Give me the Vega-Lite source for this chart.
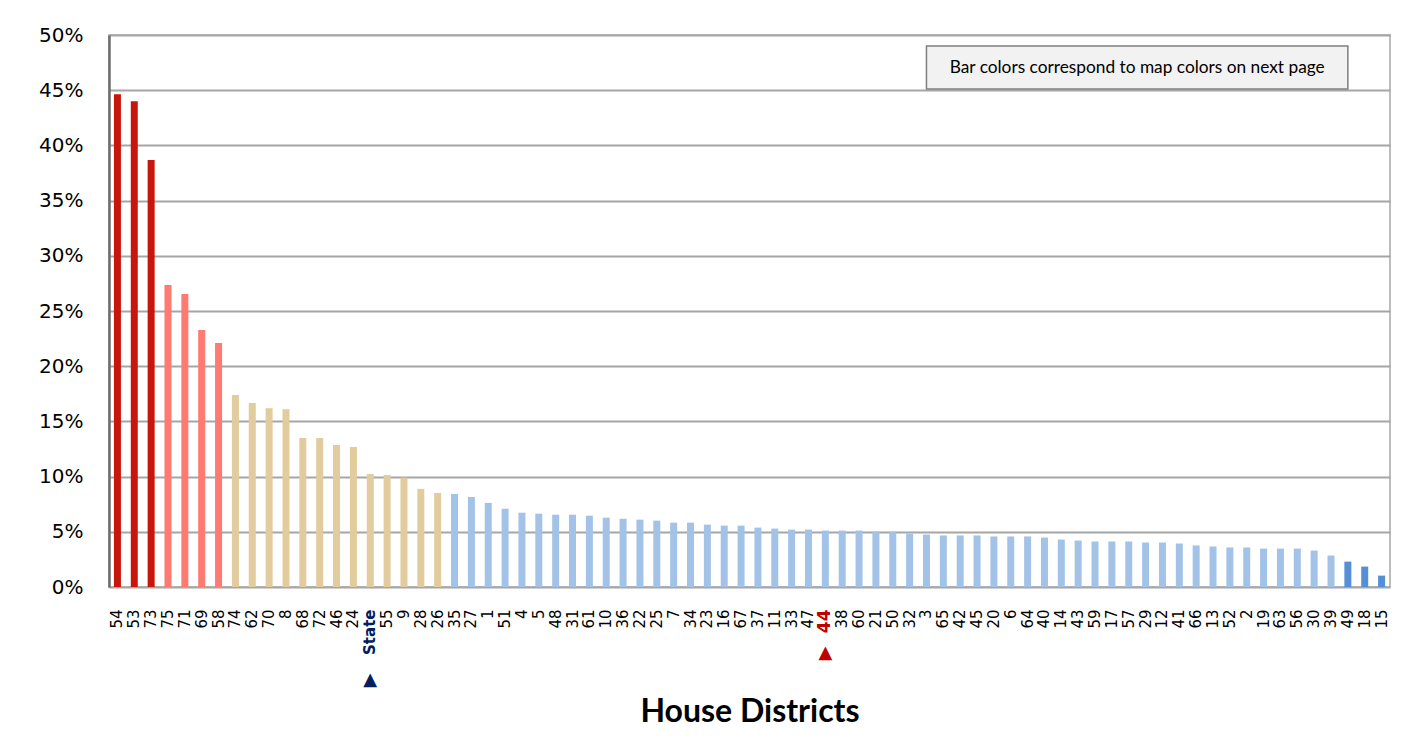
{
  "$schema": "https://vega.github.io/schema/vega-lite/v6.json",
  "width": 1281,
  "height": 552,
  "autosize": "none",
  "padding": {"left": 109, "top": 35, "right": 35, "bottom": 151},
  "background": "white",
  "config": {
    "view": {"stroke": "#A6A6A6", "strokeWidth": 1.5},
    "font": "DejaVu Sans"
  },
  "datasets": {
    "bars": [
      {"district": "54", "value": 0.4464, "group": "g1"},
      {"district": "53", "value": 0.4400, "group": "g1"},
      {"district": "73", "value": 0.3867, "group": "g1"},
      {"district": "75", "value": 0.2735, "group": "g2"},
      {"district": "71", "value": 0.2654, "group": "g2"},
      {"district": "69", "value": 0.2328, "group": "g2"},
      {"district": "58", "value": 0.2210, "group": "g2"},
      {"district": "74", "value": 0.1738, "group": "g3"},
      {"district": "62", "value": 0.1666, "group": "g3"},
      {"district": "70", "value": 0.1620, "group": "g3"},
      {"district": "8", "value": 0.1611, "group": "g3"},
      {"district": "68", "value": 0.1349, "group": "g3"},
      {"district": "72", "value": 0.1349, "group": "g3"},
      {"district": "46", "value": 0.1286, "group": "g3"},
      {"district": "24", "value": 0.1268, "group": "g3"},
      {"district": "State", "value": 0.1024, "group": "g3"},
      {"district": "55", "value": 0.1015, "group": "g3"},
      {"district": "9", "value": 0.0990, "group": "g3"},
      {"district": "28", "value": 0.0889, "group": "g3"},
      {"district": "26", "value": 0.0852, "group": "g3"},
      {"district": "35", "value": 0.0843, "group": "g4"},
      {"district": "27", "value": 0.0815, "group": "g4"},
      {"district": "1", "value": 0.0762, "group": "g4"},
      {"district": "51", "value": 0.0709, "group": "g4"},
      {"district": "4", "value": 0.0673, "group": "g4"},
      {"district": "5", "value": 0.0664, "group": "g4"},
      {"district": "48", "value": 0.0655, "group": "g4"},
      {"district": "31", "value": 0.0655, "group": "g4"},
      {"district": "61", "value": 0.0646, "group": "g4"},
      {"district": "10", "value": 0.0628, "group": "g4"},
      {"district": "36", "value": 0.0619, "group": "g4"},
      {"district": "22", "value": 0.0610, "group": "g4"},
      {"district": "25", "value": 0.0601, "group": "g4"},
      {"district": "7", "value": 0.0583, "group": "g4"},
      {"district": "34", "value": 0.0583, "group": "g4"},
      {"district": "23", "value": 0.0565, "group": "g4"},
      {"district": "16", "value": 0.0556, "group": "g4"},
      {"district": "67", "value": 0.0556, "group": "g4"},
      {"district": "37", "value": 0.0538, "group": "g4"},
      {"district": "11", "value": 0.0529, "group": "g4"},
      {"district": "33", "value": 0.0520, "group": "g4"},
      {"district": "47", "value": 0.0520, "group": "g4"},
      {"district": "44", "value": 0.0511, "group": "g4"},
      {"district": "38", "value": 0.0511, "group": "g4"},
      {"district": "60", "value": 0.0511, "group": "g4"},
      {"district": "21", "value": 0.0502, "group": "g4"},
      {"district": "50", "value": 0.0502, "group": "g4"},
      {"district": "32", "value": 0.0484, "group": "g4"},
      {"district": "3", "value": 0.0475, "group": "g4"},
      {"district": "65", "value": 0.0467, "group": "g4"},
      {"district": "42", "value": 0.0467, "group": "g4"},
      {"district": "45", "value": 0.0467, "group": "g4"},
      {"district": "20", "value": 0.0458, "group": "g4"},
      {"district": "6", "value": 0.0458, "group": "g4"},
      {"district": "64", "value": 0.0458, "group": "g4"},
      {"district": "40", "value": 0.0448, "group": "g4"},
      {"district": "14", "value": 0.0430, "group": "g4"},
      {"district": "43", "value": 0.0421, "group": "g4"},
      {"district": "59", "value": 0.0412, "group": "g4"},
      {"district": "17", "value": 0.0412, "group": "g4"},
      {"district": "57", "value": 0.0412, "group": "g4"},
      {"district": "29", "value": 0.0403, "group": "g4"},
      {"district": "12", "value": 0.0403, "group": "g4"},
      {"district": "41", "value": 0.0394, "group": "g4"},
      {"district": "66", "value": 0.0376, "group": "g4"},
      {"district": "13", "value": 0.0367, "group": "g4"},
      {"district": "52", "value": 0.0358, "group": "g4"},
      {"district": "2", "value": 0.0358, "group": "g4"},
      {"district": "19", "value": 0.0348, "group": "g4"},
      {"district": "63", "value": 0.0348, "group": "g4"},
      {"district": "56", "value": 0.0348, "group": "g4"},
      {"district": "30", "value": 0.0330, "group": "g4"},
      {"district": "39", "value": 0.0285, "group": "g4"},
      {"district": "49", "value": 0.0230, "group": "g5"},
      {"district": "18", "value": 0.0185, "group": "g5"},
      {"district": "15", "value": 0.0103, "group": "g5"}
    ],
    "note": [{"text": "Bar colors correspond to map colors on next page"}]
  },
  "layer": [
    {
      "data": {"name": "bars"},
      "mark": {"type": "bar", "size": 7},
      "encoding": {
        "x": {
          "field": "district",
          "type": "nominal",
          "sort": null,
          "scale": {"paddingInner": 0, "paddingOuter": 0},
          "axis": {
            "title": "House Districts",
            "titleFont": "Lato",
            "titleFontSize": 32,
            "titleFontWeight": "bold",
            "titleColor": "black",
            "titlePadding": 42,
            "labelAngle": -90,
            "labelFontSize": {"expr": "datum.value === '44' ? 17 : 15"},
            "labelPadding": 22,
            "labelColor": {"expr": "datum.value === 'State' ? '#002060' : (datum.value === '44' ? '#C00000' : 'black')"},
            "labelFontWeight": {"expr": "(datum.value === 'State' || datum.value === '44') ? 'bold' : 'normal'"},
            "labelOverlap": false,
            "ticks": false,
            "tickSize": 0,
            "domain": false,
            "grid": false
          }
        },
        "y": {
          "field": "value",
          "type": "quantitative",
          "scale": {"domain": [0, 0.5]},
          "axis": {
            "title": null,
            "format": ".0%",
            "values": [0, 0.05, 0.1, 0.15, 0.2, 0.25, 0.3, 0.35, 0.4, 0.45, 0.5],
            "labelFontSize": 20,
            "labelColor": "black",
            "labelPadding": 26,
            "ticks": false,
            "tickSize": 0,
            "domain": true,
            "domainColor": "#6E6E6E",
            "domainWidth": 2.5,
            "grid": true,
            "gridColor": "#A6A6A6",
            "gridWidth": 1.8
          }
        },
        "color": {
          "field": "group",
          "type": "nominal",
          "scale": {
            "domain": ["g1", "g2", "g3", "g4", "g5"],
            "range": ["#C8160C", "#FF7A71", "#E2CB9C", "#A3C2E8", "#5590D6"]
          },
          "legend": null
        }
      }
    },
    {
      "data": {"name": "note"},
      "mark": {"type": "rect", "fill": "#F2F2F2", "stroke": "#7F7F7F", "strokeWidth": 1.5},
      "encoding": {
        "x": {"datum": "3", "type": "nominal"},
        "x2": {"datum": "49"},
        "y": {"datum": 0.451, "type": "quantitative"},
        "y2": {"datum": 0.49}
      }
    },
    {
      "data": {"name": "note"},
      "mark": {"type": "text", "font": "Lato", "fontSize": 17.3, "color": "black", "baseline": "middle", "align": "center"},
      "encoding": {
        "x": {"datum": "57", "type": "nominal", "bandPosition": 1},
        "y": {"datum": 0.4705, "type": "quantitative"},
        "text": {"field": "text"}
      }
    },
    {
      "data": {"name": "bars"},
      "transform": [{"filter": "datum.district === 'State'"}],
      "mark": {"type": "text", "text": "▲", "fontSize": 18, "color": "#002060", "dy": 93, "baseline": "middle", "align": "center"},
      "encoding": {
        "x": {"field": "district", "type": "nominal", "sort": null},
        "y": {"datum": 0, "type": "quantitative"}
      }
    },
    {
      "data": {"name": "bars"},
      "transform": [{"filter": "datum.district === '44'"}],
      "mark": {"type": "text", "text": "▲", "fontSize": 18, "color": "#C00000", "dy": 66, "baseline": "middle", "align": "center"},
      "encoding": {
        "x": {"field": "district", "type": "nominal", "sort": null},
        "y": {"datum": 0, "type": "quantitative"}
      }
    }
  ]
}
